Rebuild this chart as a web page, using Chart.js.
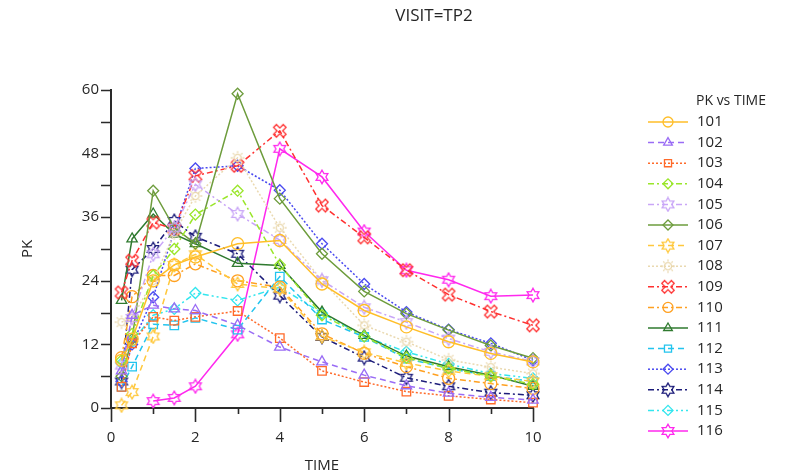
<!DOCTYPE html>
<html>
<head>
<meta charset="utf-8">
<title>PK vs TIME</title>
<script src="https://cdn.jsdelivr.net/npm/chart.js@4.4.0/dist/chart.umd.min.js"></script>
<style>
  body { margin: 0; background: #fff; }
  canvas { display: block; }
</style>
</head>
<body>
<canvas id="chart" width="796" height="476"></canvas>
<script>
// sampling times (h) shared by all subjects
const times = [0.25, 0.5, 1, 1.5, 2, 3, 4, 5, 6, 7, 8, 9, 10];
const subjects = ['101', '102', '103', '104', '105', '106', '107', '108',
                  '109', '110', '111', '112', '113', '114', '115', '116'];

// PK concentration per subject, one value per sampling time
const pk101 = [9, 13, 24, 27, 28.5, 31, 31.6, 23.4, 18.4, 15.3, 12.5, 10.3, 8.7];
const pk102 = [7, 17.5, 19.4, 18.7, 18.4, 15.6, 11.5, 8.7, 6.2, 4.2, 2.8, 2.0, 1.5];
const pk103 = [4, 12.2, 17.2, 16.5, 17.2, 18.3, 13.2, 7.0, 4.9, 3.1, 2.3, 1.6, 1.0];
const pk104 = [9, 14, 25, 30, 36.5, 41, 27, 17.5, 13.5, 9.5, 7.5, 6, 4.5];
const pk105 = [8, 17, 29, 34, 42.2, 36.6, 31.7, 24.1, 19, 16.2, 13.1, 10.6, 8.8];
const pk106 = [6, 13, 41, 34, 31, 59.3, 39.5, 29.1, 22, 17.8, 14.7, 11.8, 9.4];
const pk107 = [0.5, 3, 13.5, 27, 29, 23.4, 22.5, 13.5, 10.5, 8.5, 7, 6, 5];
const pk108 = [16.2, 17, 24, 33, 40, 47.2, 34, 24, 15.6, 12.5, 9.1, 7.7, 6.5];
const pk109 = [21.8, 27.8, 35, 33.8, 43.8, 45.7, 52.3, 38.2, 32.2, 26, 21.4, 18.2, 15.6];
const pk110 = [9.5, 21, 25, 25, 27.2, 24, 22.8, 14, 10.3, 7.8, 5.6, 4.6, 3.7];
const pk111 = [20.3, 31.9, 36.6, 32.8, 31, 27.3, 26.9, 18.1, 13.7, 9.8, 7.8, 6.2, 4.1];
const pk112 = [4, 7.8, 15.8, 15.6, 17, 14.8, 24.8, 16.7, 13.4, 9.3, 7.5, 6, 5];
const pk113 = [5, 12, 20.9, 33.5, 45.2, 45.7, 41.1, 31, 23.4, 18.1, 14.8, 12.2, 9];
const pk114 = [5, 26.1, 30, 35.3, 32.3, 29.1, 21.2, 13.4, 9.5, 5.7, 4.1, 2.9, 2.4];
const pk115 = [8.4, 12.5, 17.5, 18.7, 21.7, 20.3, 22.8, 17.9, 13.5, 10.6, 8.3, 6.5, 5.6];
const pk116 = [null, null, 1.3, 1.9, 4.1, 13.9, 48.9, 43.6, 33.3, 26, 24.2, 21.1, 21.3];

const pkValues = [pk101, pk102, pk103, pk104, pk105, pk106, pk107, pk108,
                  pk109, pk110, pk111, pk112, pk113, pk114, pk115, pk116];

const xTicks = [0, 2, 4, 6, 8, 10];
const yTicks = [0, 12, 24, 36, 48, 60];

// line styles
const SOLID = [], DASH = [6, 4], DOT = [2, 2], DASHDOT = [6, 3, 2, 3], DASHDOTDOT = [6, 3, 2, 3, 2, 3];
const colors = ['#ffbe28', '#9a6cf5', '#ff6a2a', '#9ae62a', '#c9a6f7', '#6d9c3c', '#ffc83c', '#ead9b0',
                '#ff3030', '#ffa020', '#2f7a2f', '#22c4ee', '#4a4af0', '#1c1c7a', '#33e6ee', '#ff28ee'];
const dashes = [SOLID, DASH, DOT, DASHDOT, DASHDOT, SOLID, DASH, DOT,
                DASHDOT, DASHDOT, SOLID, DASH, DOT, DASHDOT, DASHDOTDOT, SOLID];
const markers = ['circle', 'triangle', 'rect', 'rectRot', 'star', 'rectRot', 'star', 'sun',
                 'cross', 'circle', 'triangle', 'rect', 'rectRot', 'star', 'rectRot', 'star'];

// small canvases for the marker shapes Chart.js doesn't have
function markerCanvas(shape, color) {
  const c = document.createElement('canvas');
  c.width = 16; c.height = 16;
  const g = c.getContext('2d');
  g.strokeStyle = color;
  g.lineWidth = 1.3;
  g.translate(8, 8);
  g.beginPath();
  if (shape === 'star') {
    for (let k = 0; k < 12; k++) {
      const r = k % 2 === 0 ? 6.8 : 3.9;
      const a = -Math.PI / 2 + k * Math.PI / 6;
      k === 0 ? g.moveTo(r * Math.cos(a), r * Math.sin(a)) : g.lineTo(r * Math.cos(a), r * Math.sin(a));
    }
    g.closePath();
    g.stroke();
  } else if (shape === 'sun') {
    g.arc(0, 0, 3.6, 0, Math.PI * 2);
    g.stroke();
    g.beginPath();
    for (let k = 0; k < 8; k++) {
      const a = k * Math.PI / 4;
      g.moveTo(4.8 * Math.cos(a), 4.8 * Math.sin(a));
      g.lineTo(6.8 * Math.cos(a), 6.8 * Math.sin(a));
    }
    g.stroke();
  } else if (shape === 'cross') {
    g.rotate(Math.PI / 4);
    const w = 2, L = 6.8;
    const pts = [[-w, -L], [w, -L], [w, -w], [L, -w], [L, w], [w, w], [w, L], [-w, L], [-w, w], [-L, w], [-L, -w], [-w, -w]];
    pts.forEach((p, k) => k === 0 ? g.moveTo(p[0], p[1]) : g.lineTo(p[0], p[1]));
    g.closePath();
    g.stroke();
  }
  return c;
}

const pointStyles = markers.map((m, i) =>
  (m === 'star' || m === 'sun' || m === 'cross') ? markerCanvas(m, colors[i]) : m);
const pointRadius = markers.map(m => m === 'rectRot' ? 5.5 : 6);

const datasets = subjects.map((s, i) => ({
  label: s,
  data: times.map((t, k) => ({ x: t, y: pkValues[i][k] })),
  borderColor: colors[i],
  backgroundColor: 'rgba(255,255,255,0)',
  borderWidth: 1.5,
  borderDash: dashes[i],
  pointStyle: pointStyles[i],
  pointRadius: pointRadius[i],
  pointBorderWidth: 1.3,
  pointBorderColor: colors[i],
  pointBackgroundColor: 'rgba(255,255,255,0)',
  spanGaps: false,
  tension: 0,
  clip: false
}));

const FONT = "'Open Sans', 'Noto Sans', sans-serif";
const TEXT = '#262626';

// title, axis titles, tick marks and the legend box
const decorations = {
  id: 'decorations',
  afterDraw(chart) {
    const { ctx, chartArea, scales } = chart;
    const xs = scales.x, ys = scales.y;
    ctx.save();
    ctx.strokeStyle = '#2a2a2a';
    ctx.lineWidth = 1.6;
    ctx.setLineDash([]);
    ctx.beginPath();
    for (let v = 0; v <= 10; v++) {
      const px = Math.round(xs.getPixelForValue(v)) + 0.5;
      ctx.moveTo(px, chartArea.bottom);
      ctx.lineTo(px, chartArea.bottom + (v % 2 === 0 ? 14 : 6));
    }
    for (let v = 0; v <= 60; v += 6) {
      const py = Math.round(ys.getPixelForValue(v)) + 0.5;
      ctx.moveTo(chartArea.left, py);
      ctx.lineTo(chartArea.left - 10, py);
    }
    ctx.stroke();

    ctx.fillStyle = TEXT;
    ctx.textBaseline = 'middle';
    ctx.textAlign = 'center';
    ctx.font = `17px ${FONT}`;
    ctx.fillText('VISIT=TP2', 434, 16);
    ctx.font = `15px ${FONT}`;
    ctx.fillText('TIME', (chartArea.left + chartArea.right) / 2, 466);
    ctx.save();
    ctx.translate(28, (chartArea.top + chartArea.bottom) / 2);
    ctx.rotate(-Math.PI / 2);
    ctx.fillText('PK', 0, 0);
    ctx.restore();

    // legend
    ctx.textAlign = 'left';
    ctx.font = `14px ${FONT}`;
    ctx.fillText('PK vs TIME', 696, 101);
    ctx.font = `15px ${FONT}`;
    chart.data.datasets.forEach((ds, i) => {
      const y = 122 + i * 20.6;
      ctx.strokeStyle = ds.borderColor;
      ctx.lineWidth = 1.5;
      ctx.setLineDash(ds.borderDash);
      ctx.beginPath();
      ctx.moveTo(648, y);
      ctx.lineTo(688, y);
      ctx.stroke();
      ctx.setLineDash([]);
      ctx.lineWidth = 1.3;
      ctx.fillStyle = 'rgba(255,255,255,0)';
      Chart.helpers.drawPoint(ctx, { pointStyle: ds.pointStyle, radius: 5, rotation: 0, borderWidth: 1.3 }, 668, y);
      ctx.fillStyle = TEXT;
      ctx.fillText(ds.label, 697, y);
    });
    ctx.restore();
  }
};

new Chart(document.getElementById('chart'), {
  type: 'line',
  data: { datasets },
  options: {
    responsive: false,
    animation: false,
    layout: { padding: { left: 0, right: 263, top: 90, bottom: 0 } },
    plugins: { legend: { display: false }, title: { display: false }, tooltip: { enabled: false } },
    scales: {
      x: {
        type: 'linear', min: 0, max: 10,
        afterBuildTicks: s => { s.ticks = xTicks.map(v => ({ value: v })); },
        ticks: { padding: 13, color: TEXT, font: { family: FONT, size: 15 } },
        grid: { display: false },
        border: { display: true, color: '#2a2a2a', width: 2 },
        afterFit: s => { s.height = 68; }
      },
      y: {
        min: 0, max: 60,
        afterBuildTicks: s => { s.ticks = yTicks.map(v => ({ value: v })); },
        ticks: { padding: 4, color: TEXT, font: { family: FONT, size: 15 } },
        grid: { display: false },
        border: { display: true, color: '#2a2a2a', width: 2 },
        afterFit: s => { s.width = 111; }
      }
    }
  },
  plugins: [decorations]
});
</script>
</body>
</html>
